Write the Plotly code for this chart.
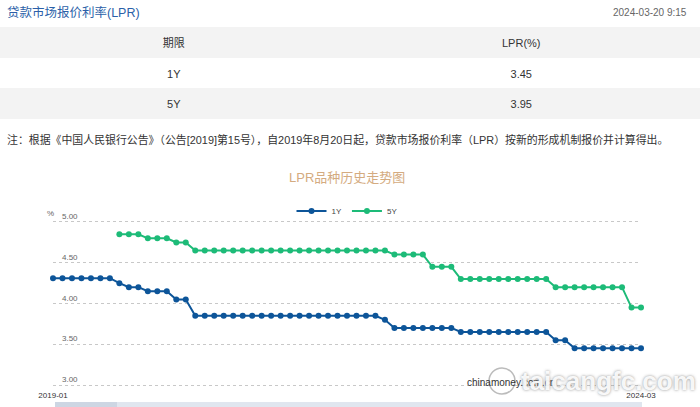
import plotly.graph_objects as go

# ---------------- data ----------------
months = [f"{y}-{m:02d}" for y in range(2019, 2025) for m in range(1, 13)][:63]

rate_1y = ([4.31] * 7 + [4.25] + [4.20] * 2 + [4.15] * 3 + [4.05] * 2 + [3.85] * 20 +
           [3.80] + [3.70] * 7 + [3.65] * 10 + [3.55] * 2 + [3.45] * 8)
rate_5y = ([None] * 7 + [4.85] * 3 + [4.80] * 3 + [4.75] * 2 + [4.65] * 21 +
           [4.60] * 4 + [4.45] * 3 + [4.30] * 10 + [4.20] * 8 + [3.95] * 2)

table_terms = ["1Y", "5Y"]
table_lpr = [3.45, 3.95]
x_ticks = ["2019-01", "2024-03"]

W, H = 700, 407
FONT = "Arial, 'Liberation Sans', 'Noto Sans CJK SC', sans-serif"

def px(x):
    return x / W

def py(y):
    return 1 - y / H

fig = go.Figure()

fig.add_trace(go.Scatter(
    x=months, y=rate_1y, name="1Y", mode="lines+markers",
    line=dict(color="#0d5599", width=2), marker=dict(size=6, color="#0d5599"),
    cliponaxis=False,
))
fig.add_trace(go.Scatter(
    x=months, y=rate_5y, name="5Y", mode="lines+markers",
    line=dict(color="#1dbb78", width=2), marker=dict(size=6, color="#1dbb78"),
    cliponaxis=False,
))

G = "#f3f3f3"
T = "rgba(0,0,0,0)"
fig.add_trace(go.Table(
    domain=dict(x=[0, 0.993], y=[py(122), py(31)]),
    columnwidth=[1, 1],
    header=dict(values=["期限", "LPR(%)"], fill_color=T, line=dict(color=T, width=0),
                height=31, align="center", font=dict(size=11, color="#333", family=FONT)),
    cells=dict(values=[table_terms, table_lpr], format=["", ".2f"],
               fill_color=T, line=dict(color=T, width=0),
               height=30, align="center", font=dict(size=11, color="#333", family=FONT)),
))

pad = 0.03
unit = 163 / 2.0
fig.update_layout(
    width=W, height=H, margin=dict(l=0, r=0, t=0, b=0, autoexpand=False),
    paper_bgcolor="white", plot_bgcolor="white",
    font=dict(family=FONT),
    showlegend=True,
    legend=dict(orientation="h", x=px(347), xanchor="center", y=py(211), yanchor="middle",
                font=dict(size=8, color="#444"), itemwidth=30, bgcolor="rgba(0,0,0,0)"),
    xaxis=dict(type="category", domain=[px(53), px(641)], range=[0, 62], automargin=False,
               tickmode="array", tickvals=x_ticks, ticktext=x_ticks,
               showgrid=False, showline=False, zeroline=False, ticks="",
               tickfont=dict(size=8, color="#333"), ticklabelstandoff=2),
    yaxis=dict(domain=[(22 - pad * unit) / H, (185 + pad * unit) / H],
               range=[3 - pad, 5 + pad], dtick=0.5, tick0=3,
               automargin=False,
               tickformat=".2f", showgrid=True, gridcolor="#c8c8c8", griddash="3px,3px", gridwidth=1,
               zeroline=False, showline=False, ticks="",
               ticklabelposition="inside top", ticklabelstandoff=6, ticklabeloverflow="allow",
               tickfont=dict(size=8, color="#666")),
)

ann = [
    dict(x=px(5), y=py(12), text="贷款市场报价利率(LPR)", xanchor="left", yanchor="middle",
         font=dict(size=12.5, color="#2b5fa8")),
    dict(x=px(689), y=py(12), text="2024-03-20 9:15", xanchor="right", yanchor="middle",
         font=dict(size=10, color="#666")),
    dict(x=px(5), y=py(139), text="注：根据《中国人民银行公告》（公告[2019]第15号），自2019年8月20日起，贷款市场报价利率（LPR）按新的形成机制报价并计算得出。",
         xanchor="left", yanchor="middle", font=dict(size=10.9, color="#333")),
    dict(x=px(347), y=py(178), text="LPR品种历史走势图", xanchor="center", yanchor="middle",
         font=dict(size=13, color="#d4ab80")),
    dict(x=px(50), y=py(213), text="%", xanchor="center", yanchor="middle",
         font=dict(size=8, color="#666")),
    dict(x=px(465), y=py(382), text="chinamoney.com.cn", xanchor="left", yanchor="middle",
         font=dict(size=10, color="#333")),
    dict(x=px(519), y=py(381), text="taicangfc.com", xanchor="left", yanchor="middle",
         font=dict(size=26, color="rgba(255,255,255,0.92)", family="'Liberation Sans', Arial, sans-serif",
                   weight="bold", shadow="0px 0px 3px rgba(120,120,120,0.9)")),
]
for a in ann:
    a.update(xref="paper", yref="paper", showarrow=False)
fig.update_layout(annotations=ann)

shapes = [
    # table row bands
    dict(type="rect", xref="paper", yref="paper", x0=0, x1=1, y0=py(58), y1=py(27),
         fillcolor=G, line=dict(width=0), layer="below"),
    dict(type="rect", xref="paper", yref="paper", x0=0, x1=1, y0=py(119), y1=py(88),
         fillcolor=G, line=dict(width=0), layer="below"),
    # slider
    dict(type="rect", xref="paper", yref="paper", x0=px(55), x1=px(642), y0=0, y1=py(402),
         fillcolor="#e0e6ef", line=dict(width=0), layer="below"),
    dict(type="rect", xref="paper", yref="paper", x0=px(55), x1=px(117), y0=0, y1=py(402),
         fillcolor="#cdd6e3", line=dict(width=0), layer="below"),
    # watermark logo
    dict(type="circle", xref="paper", yref="paper", x0=px(489), x1=px(515), y0=py(394), y1=py(368),
         fillcolor="rgba(255,255,255,0.85)", line=dict(color="rgba(170,170,170,0.8)", width=1.5)),
]
fig.update_layout(shapes=shapes)

fig.write_html("out.html")
